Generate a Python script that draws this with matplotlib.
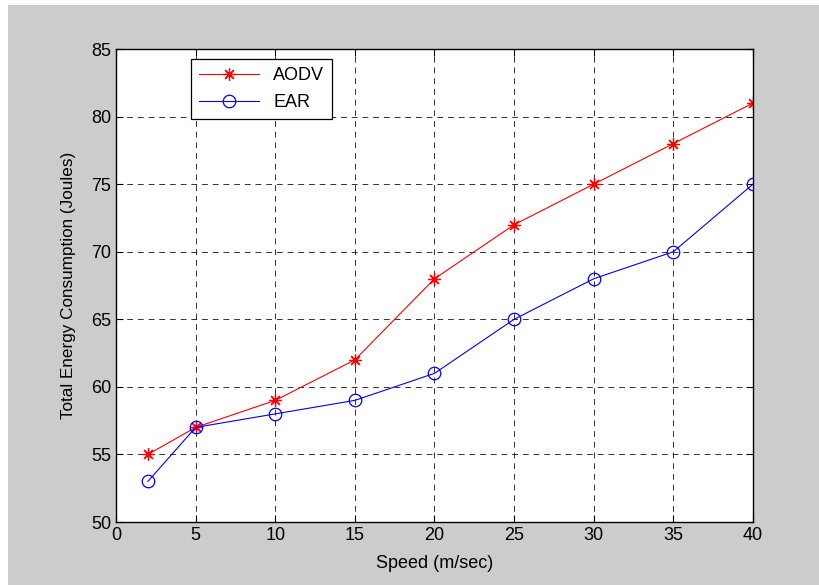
import matplotlib
matplotlib.use("Agg")
import matplotlib.pyplot as plt
from matplotlib.patches import Rectangle

speed = [2, 5, 10, 15, 20, 25, 30, 35, 40]
aodv = [55, 57, 59, 62, 68, 72, 75, 78, 81]
ear = [53, 57, 58, 59, 61, 65, 68, 70, 75]
xticks = [0, 5, 10, 15, 20, 25, 30, 35, 40]
yticks = [50, 55, 60, 65, 70, 75, 80, 85]

plt.rcParams['font.family'] = ['Liberation Sans', 'DejaVu Sans']

fig = plt.figure(figsize=(8.2, 5.85), dpi=100, facecolor='white')
fig.patches.append(Rectangle((8/820, 0), 1, 1 - 5/585, transform=fig.transFigure,
                             facecolor='#cccccc', edgecolor='none', zorder=-10))
ax = fig.add_axes([116/820, 1 - 522/585, (753-116)/820, (522-49)/585])
ax.set_facecolor('white')

ax.plot(speed, aodv, color='#ff0000', marker=(8, 2, 0), markersize=9, linewidth=0.8,
        markeredgewidth=0.9, label='AODV')
ax.plot(speed, ear, color='#0000ff', marker='o', markersize=9, markerfacecolor='none',
        linewidth=0.8, markeredgewidth=0.9, label='EAR')

ax.set_xlim(0, 40)
ax.set_ylim(50, 85)
ax.set_xticks(xticks)
ax.set_yticks(yticks)
ax.grid(True, color='black', linestyle=(0, (6, 5)), linewidth=0.7, alpha=0.8)
ax.tick_params(direction='in', top=True, right=True, labelsize=13, length=5, width=0.8)
for s in ax.spines.values():
    s.set_linewidth(1.0)
ax.set_xlabel('Speed (m/sec)', fontsize=13, labelpad=8)
ax.set_ylabel('Total Energy Consumption (Joules)', fontsize=12.3, labelpad=11)

leg = ax.legend(loc='upper left', bbox_to_anchor=(0.118, 0.979), fontsize=13,
                fancybox=False, framealpha=1, edgecolor='black', borderpad=0.45,
                handlelength=3.3, labelspacing=0.55, borderaxespad=0)
leg.get_frame().set_linewidth(0.9)

fig.savefig('out.png', dpi=100, facecolor=fig.get_facecolor())
